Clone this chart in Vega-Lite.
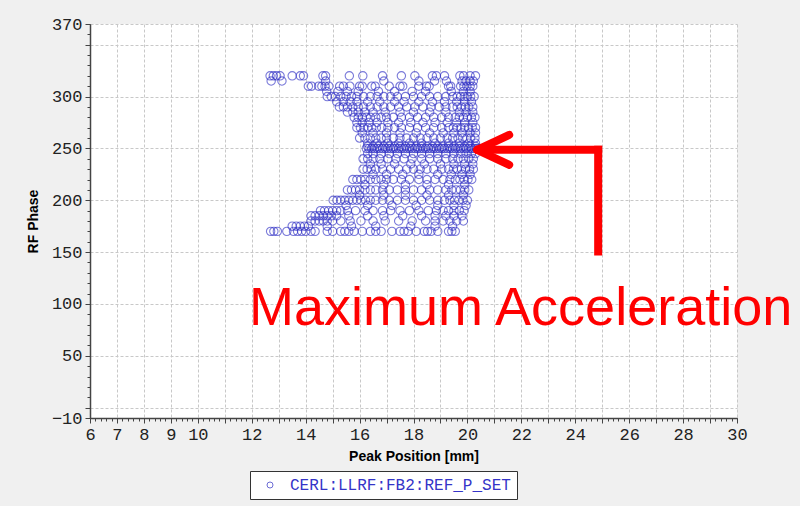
{
"$schema":"https://vega.github.io/schema/vega-lite/v6.json",
"width":647,"height":394,
"autosize":{"type":"none"},
"padding":{"left":90,"top":24,"right":63,"bottom":88},
"background":"#f0f0f0",
"config":{"view":{"fill":"white","stroke":null},"axis":{"labelOverlap":false,"labelFlush":false}},
"resolve":{"axis":{"x":"independent","y":"independent"}},
"layer":[
{"data":{"values":[
{"x":12.68,"y":320},{"x":12.8,"y":320},{"x":12.92,"y":320},{"x":13.05,"y":320},{"x":13.5,"y":320},{"x":13.8,"y":320},{"x":13.92,"y":320},{"x":14.64,"y":320},{"x":14.74,"y":320},{"x":15.62,"y":320},{"x":16.12,"y":320},{"x":16.85,"y":320},{"x":17.55,"y":320},{"x":18.05,"y":320},{"x":18.7,"y":320},{"x":18.85,"y":320},{"x":19.15,"y":320},{"x":19.72,"y":320},{"x":19.86,"y":320},{"x":20.1,"y":320},{"x":20.3,"y":320},
{"x":12.72,"y":315},{"x":13.12,"y":315},{"x":14.74,"y":315},{"x":16.9,"y":315},{"x":18.2,"y":315},{"x":18.78,"y":315},{"x":19.22,"y":315},{"x":19.8,"y":315},{"x":19.95,"y":315},{"x":20.1,"y":315},{"x":20.22,"y":315},
{"x":14.1,"y":310},{"x":14.22,"y":310},{"x":14.48,"y":310},{"x":14.6,"y":310},{"x":14.72,"y":310},{"x":14.86,"y":310},{"x":15.26,"y":310},{"x":15.4,"y":310},{"x":15.64,"y":310},{"x":16.0,"y":310},{"x":16.1,"y":310},{"x":16.45,"y":310},{"x":16.58,"y":310},{"x":17.1,"y":310},{"x":17.5,"y":310},{"x":17.6,"y":310},{"x":18.2,"y":310},{"x":18.48,"y":310},{"x":18.58,"y":310},{"x":19.3,"y":310},{"x":19.38,"y":310},{"x":19.75,"y":310},{"x":19.87,"y":310},{"x":19.98,"y":310},{"x":20.1,"y":310},{"x":20.2,"y":310},
{"x":14.78,"y":305},{"x":15.2,"y":305},{"x":15.55,"y":305},{"x":15.95,"y":305},{"x":16.7,"y":305},{"x":17.3,"y":305},{"x":17.95,"y":305},{"x":18.45,"y":305},{"x":19.4,"y":305},{"x":19.85,"y":305},{"x":20.1,"y":305},
{"x":14.8,"y":300},{"x":14.95,"y":300},{"x":15.1,"y":300},{"x":15.3,"y":300},{"x":15.5,"y":300},{"x":15.7,"y":300},{"x":15.9,"y":300},{"x":16.15,"y":300},{"x":16.4,"y":300},{"x":16.65,"y":300},{"x":16.9,"y":300},{"x":17.15,"y":300},{"x":17.4,"y":300},{"x":17.7,"y":300},{"x":18.0,"y":300},{"x":18.3,"y":300},{"x":18.6,"y":300},{"x":18.9,"y":300},{"x":19.2,"y":300},{"x":19.45,"y":300},{"x":19.62,"y":300},{"x":19.75,"y":300},{"x":19.88,"y":300},{"x":20.0,"y":300},{"x":20.12,"y":300},{"x":20.25,"y":300},
{"x":15.15,"y":295},{"x":15.4,"y":295},{"x":15.65,"y":295},{"x":15.9,"y":295},{"x":16.3,"y":295},{"x":16.75,"y":295},{"x":17.3,"y":295},{"x":17.65,"y":295},{"x":18.2,"y":295},{"x":18.7,"y":295},{"x":19.15,"y":295},{"x":19.6,"y":295},{"x":19.9,"y":295},{"x":20.15,"y":295},
{"x":15.25,"y":290},{"x":15.4,"y":290},{"x":15.55,"y":290},{"x":15.75,"y":290},{"x":15.95,"y":290},{"x":16.15,"y":290},{"x":16.4,"y":290},{"x":16.65,"y":290},{"x":16.9,"y":290},{"x":17.15,"y":290},{"x":17.45,"y":290},{"x":17.75,"y":290},{"x":18.05,"y":290},{"x":18.35,"y":290},{"x":18.65,"y":290},{"x":18.95,"y":290},{"x":19.2,"y":290},{"x":19.45,"y":290},{"x":19.62,"y":290},{"x":19.78,"y":290},{"x":19.92,"y":290},{"x":20.05,"y":290},{"x":20.2,"y":290},
{"x":15.55,"y":285},{"x":15.75,"y":285},{"x":15.95,"y":285},{"x":16.2,"y":285},{"x":16.5,"y":285},{"x":16.95,"y":285},{"x":17.5,"y":285},{"x":18.0,"y":285},{"x":18.6,"y":285},{"x":19.2,"y":285},{"x":19.7,"y":285},{"x":19.95,"y":285},{"x":20.2,"y":285},
{"x":15.8,"y":280},{"x":15.95,"y":280},{"x":16.1,"y":280},{"x":16.25,"y":280},{"x":16.4,"y":280},{"x":16.6,"y":280},{"x":16.8,"y":280},{"x":17.0,"y":280},{"x":17.25,"y":280},{"x":17.55,"y":280},{"x":17.85,"y":280},{"x":18.15,"y":280},{"x":18.45,"y":280},{"x":18.75,"y":280},{"x":19.05,"y":280},{"x":19.3,"y":280},{"x":19.55,"y":280},{"x":19.7,"y":280},{"x":19.85,"y":280},{"x":20.0,"y":280},{"x":20.15,"y":280},{"x":20.28,"y":280},
{"x":15.9,"y":275},{"x":16.1,"y":275},{"x":16.35,"y":275},{"x":16.65,"y":275},{"x":17.05,"y":275},{"x":17.45,"y":275},{"x":17.9,"y":275},{"x":18.35,"y":275},{"x":18.8,"y":275},{"x":19.25,"y":275},{"x":19.6,"y":275},{"x":19.9,"y":275},{"x":20.2,"y":275},
{"x":15.9,"y":270},{"x":16.03,"y":270},{"x":16.16,"y":270},{"x":16.3,"y":270},{"x":16.45,"y":270},{"x":16.62,"y":270},{"x":16.82,"y":270},{"x":17.05,"y":270},{"x":17.3,"y":270},{"x":17.55,"y":270},{"x":17.85,"y":270},{"x":18.15,"y":270},{"x":18.45,"y":270},{"x":18.75,"y":270},{"x":19.05,"y":270},{"x":19.3,"y":270},{"x":19.48,"y":270},{"x":19.62,"y":270},{"x":19.76,"y":270},{"x":19.9,"y":270},{"x":20.04,"y":270},{"x":20.18,"y":270},{"x":20.3,"y":270},
{"x":16.1,"y":265},{"x":16.5,"y":265},{"x":17.0,"y":265},{"x":17.5,"y":265},{"x":18.1,"y":265},{"x":18.6,"y":265},{"x":19.1,"y":265},{"x":19.5,"y":265},{"x":19.8,"y":265},{"x":20.1,"y":265},{"x":20.3,"y":265},
{"x":16.0,"y":260},{"x":16.2,"y":260},{"x":16.4,"y":260},{"x":16.6,"y":260},{"x":16.8,"y":260},{"x":17.0,"y":260},{"x":17.25,"y":260},{"x":17.5,"y":260},{"x":17.75,"y":260},{"x":18.0,"y":260},{"x":18.25,"y":260},{"x":18.5,"y":260},{"x":18.75,"y":260},{"x":19.0,"y":260},{"x":19.25,"y":260},{"x":19.45,"y":260},{"x":19.65,"y":260},{"x":19.82,"y":260},{"x":19.98,"y":260},{"x":20.12,"y":260},{"x":20.28,"y":260},
{"x":16.3,"y":255},{"x":16.65,"y":255},{"x":17.05,"y":255},{"x":17.45,"y":255},{"x":17.85,"y":255},{"x":18.3,"y":255},{"x":18.8,"y":255},{"x":19.3,"y":255},{"x":19.7,"y":255},{"x":20.05,"y":255},{"x":20.3,"y":255},
{"x":16.3,"y":252},{"x":16.5,"y":252},{"x":16.7,"y":252},{"x":16.9,"y":252},{"x":17.1,"y":252},{"x":17.3,"y":252},{"x":17.5,"y":252},{"x":17.7,"y":252},{"x":17.9,"y":252},{"x":18.1,"y":252},{"x":18.3,"y":252},{"x":18.5,"y":252},{"x":18.7,"y":252},{"x":18.9,"y":252},{"x":19.1,"y":252},{"x":19.3,"y":252},{"x":19.5,"y":252},{"x":19.7,"y":252},{"x":19.9,"y":252},{"x":20.1,"y":252},{"x":20.3,"y":252},
{"x":16.25,"y":250},{"x":16.35,"y":250},{"x":16.45,"y":250},{"x":16.55,"y":250},{"x":16.65,"y":250},{"x":16.75,"y":250},{"x":16.85,"y":250},{"x":16.95,"y":250},{"x":17.05,"y":250},{"x":17.15,"y":250},{"x":17.25,"y":250},{"x":17.35,"y":250},{"x":17.45,"y":250},{"x":17.55,"y":250},{"x":17.65,"y":250},{"x":17.75,"y":250},{"x":17.85,"y":250},{"x":17.95,"y":250},{"x":18.05,"y":250},{"x":18.15,"y":250},{"x":18.25,"y":250},{"x":18.35,"y":250},{"x":18.45,"y":250},{"x":18.55,"y":250},{"x":18.65,"y":250},{"x":18.75,"y":250},{"x":18.85,"y":250},{"x":18.95,"y":250},{"x":19.05,"y":250},{"x":19.15,"y":250},{"x":19.25,"y":250},{"x":19.35,"y":250},{"x":19.45,"y":250},{"x":19.55,"y":250},{"x":19.65,"y":250},{"x":19.75,"y":250},{"x":19.85,"y":250},{"x":19.95,"y":250},{"x":20.05,"y":250},{"x":20.15,"y":250},{"x":20.25,"y":250},{"x":20.35,"y":250},{"x":20.42,"y":250},
{"x":16.3,"y":245},{"x":16.5,"y":245},{"x":16.8,"y":245},{"x":17.1,"y":245},{"x":17.4,"y":245},{"x":17.7,"y":245},{"x":18.0,"y":245},{"x":18.3,"y":245},{"x":18.6,"y":245},{"x":18.9,"y":245},{"x":19.2,"y":245},{"x":19.5,"y":245},{"x":19.75,"y":245},{"x":19.95,"y":245},{"x":20.15,"y":245},{"x":20.3,"y":245},
{"x":16.13,"y":240},{"x":16.3,"y":240},{"x":16.5,"y":240},{"x":16.75,"y":240},{"x":17.05,"y":240},{"x":17.35,"y":240},{"x":17.65,"y":240},{"x":17.95,"y":240},{"x":18.3,"y":240},{"x":18.6,"y":240},{"x":18.9,"y":240},{"x":19.2,"y":240},{"x":19.45,"y":240},{"x":19.65,"y":240},{"x":19.85,"y":240},{"x":20.05,"y":240},{"x":20.22,"y":240},
{"x":16.4,"y":235},{"x":16.8,"y":235},{"x":17.3,"y":235},{"x":17.9,"y":235},{"x":18.4,"y":235},{"x":19.0,"y":235},{"x":19.5,"y":235},{"x":19.9,"y":235},{"x":20.2,"y":235},
{"x":16.13,"y":230},{"x":16.28,"y":230},{"x":16.43,"y":230},{"x":16.6,"y":230},{"x":16.85,"y":230},{"x":17.15,"y":230},{"x":17.45,"y":230},{"x":17.75,"y":230},{"x":18.0,"y":230},{"x":18.25,"y":230},{"x":18.5,"y":230},{"x":18.75,"y":230},{"x":19.05,"y":230},{"x":19.3,"y":230},{"x":19.48,"y":230},{"x":19.62,"y":230},{"x":19.78,"y":230},{"x":19.93,"y":230},{"x":20.08,"y":230},{"x":20.22,"y":230},
{"x":16.5,"y":225},{"x":17.0,"y":225},{"x":17.6,"y":225},{"x":18.2,"y":225},{"x":18.9,"y":225},{"x":19.4,"y":225},{"x":19.8,"y":225},{"x":20.1,"y":225},
{"x":15.75,"y":220},{"x":15.9,"y":220},{"x":16.05,"y":220},{"x":16.2,"y":220},{"x":16.4,"y":220},{"x":16.6,"y":220},{"x":16.8,"y":220},{"x":17.0,"y":220},{"x":17.25,"y":220},{"x":17.55,"y":220},{"x":17.85,"y":220},{"x":18.2,"y":220},{"x":18.5,"y":220},{"x":18.8,"y":220},{"x":19.1,"y":220},{"x":19.35,"y":220},{"x":19.55,"y":220},{"x":19.72,"y":220},{"x":19.88,"y":220},{"x":20.02,"y":220},{"x":20.16,"y":220},
{"x":16.2,"y":215},{"x":16.9,"y":215},{"x":17.7,"y":215},{"x":18.5,"y":215},{"x":19.3,"y":215},{"x":19.9,"y":215},
{"x":15.55,"y":210},{"x":15.7,"y":210},{"x":15.85,"y":210},{"x":16.0,"y":210},{"x":16.2,"y":210},{"x":16.4,"y":210},{"x":16.6,"y":210},{"x":16.85,"y":210},{"x":17.1,"y":210},{"x":17.4,"y":210},{"x":17.7,"y":210},{"x":18.0,"y":210},{"x":18.3,"y":210},{"x":18.6,"y":210},{"x":18.9,"y":210},{"x":19.2,"y":210},{"x":19.42,"y":210},{"x":19.58,"y":210},{"x":19.74,"y":210},{"x":19.9,"y":210},{"x":20.05,"y":210},
{"x":16.0,"y":205},{"x":16.9,"y":205},{"x":17.7,"y":205},{"x":18.5,"y":205},{"x":19.3,"y":205},{"x":19.85,"y":205},
{"x":15.02,"y":200},{"x":15.16,"y":200},{"x":15.3,"y":200},{"x":15.45,"y":200},{"x":15.6,"y":200},{"x":15.75,"y":200},{"x":15.9,"y":200},{"x":16.05,"y":200},{"x":16.22,"y":200},{"x":16.4,"y":200},{"x":16.6,"y":200},{"x":16.85,"y":200},{"x":17.1,"y":200},{"x":17.4,"y":200},{"x":17.7,"y":200},{"x":18.0,"y":200},{"x":18.3,"y":200},{"x":18.6,"y":200},{"x":18.9,"y":200},{"x":19.15,"y":200},{"x":19.35,"y":200},{"x":19.52,"y":200},{"x":19.68,"y":200},{"x":19.84,"y":200},{"x":20.0,"y":200},
{"x":15.5,"y":195},{"x":16.3,"y":195},{"x":17.2,"y":195},{"x":18.1,"y":195},{"x":18.9,"y":195},{"x":19.5,"y":195},{"x":19.95,"y":195},
{"x":14.55,"y":190},{"x":14.7,"y":190},{"x":14.85,"y":190},{"x":15.0,"y":190},{"x":15.15,"y":190},{"x":15.3,"y":190},{"x":15.55,"y":190},{"x":15.85,"y":190},{"x":16.2,"y":190},{"x":16.5,"y":190},{"x":16.85,"y":190},{"x":17.15,"y":190},{"x":17.5,"y":190},{"x":17.85,"y":190},{"x":18.2,"y":190},{"x":18.55,"y":190},{"x":18.85,"y":190},{"x":19.1,"y":190},{"x":19.3,"y":190},{"x":19.5,"y":190},{"x":19.7,"y":190},{"x":19.88,"y":190},
{"x":14.2,"y":185},{"x":14.35,"y":185},{"x":14.5,"y":185},{"x":14.65,"y":185},{"x":14.8,"y":185},{"x":14.95,"y":185},{"x":15.15,"y":185},{"x":15.6,"y":185},{"x":16.3,"y":185},{"x":16.9,"y":185},{"x":17.6,"y":185},{"x":18.3,"y":185},{"x":18.8,"y":185},{"x":19.2,"y":185},{"x":19.5,"y":185},{"x":19.8,"y":185},
{"x":14.2,"y":180},{"x":14.35,"y":180},{"x":14.5,"y":180},{"x":14.65,"y":180},{"x":14.8,"y":180},{"x":15.0,"y":180},{"x":15.3,"y":180},{"x":15.65,"y":180},{"x":16.05,"y":180},{"x":16.5,"y":180},{"x":16.95,"y":180},{"x":17.45,"y":180},{"x":17.95,"y":180},{"x":18.45,"y":180},{"x":18.8,"y":180},{"x":19.1,"y":180},{"x":19.35,"y":180},{"x":19.6,"y":180},{"x":19.85,"y":180},
{"x":13.5,"y":175},{"x":13.65,"y":175},{"x":13.8,"y":175},{"x":13.95,"y":175},{"x":14.1,"y":175},{"x":14.8,"y":175},{"x":15.7,"y":175},{"x":16.6,"y":175},{"x":17.9,"y":175},{"x":18.8,"y":175},{"x":19.45,"y":175},
{"x":12.7,"y":170},{"x":12.82,"y":170},{"x":12.95,"y":170},{"x":13.3,"y":170},{"x":13.55,"y":170},{"x":13.7,"y":170},{"x":13.85,"y":170},{"x":14.0,"y":170},{"x":14.2,"y":170},{"x":14.35,"y":170},{"x":14.8,"y":170},{"x":15.0,"y":170},{"x":15.3,"y":170},{"x":15.45,"y":170},{"x":15.6,"y":170},{"x":15.8,"y":170},{"x":16.1,"y":170},{"x":16.4,"y":170},{"x":16.6,"y":170},{"x":16.8,"y":170},{"x":17.2,"y":170},{"x":17.5,"y":170},{"x":17.65,"y":170},{"x":17.8,"y":170},{"x":18.1,"y":170},{"x":18.4,"y":170},{"x":18.52,"y":170},{"x":18.65,"y":170},{"x":18.9,"y":170},{"x":19.3,"y":170},{"x":19.42,"y":170},{"x":19.55,"y":170}
]},
"mark":{"type":"point","shape":"circle","filled":false,"size":70,"strokeWidth":1.1,"strokeOpacity":0.9},
"encoding":{
"x":{"field":"x","type":"quantitative","scale":{"domain":[6,30],"nice":false,"zero":false},
"axis":{"orient":"bottom","values":[6,7,8,9,10,11,12,13,14,15,16,17,18,19,20,21,22,23,24,25,26,27,28,29,30],"labelExpr":"datum.value<=10||datum.value%2==0?datum.label:''","grid":true,"gridDash":[3,2],"gridColor":"#c8c8c8","tickSize":5,"tickColor":"#444","domainColor":"#444","domainWidth":1.5,"labelFont":"Liberation Mono","labelFontSize":17,"labelColor":"#222","labelPadding":3,"title":"Peak Position [mm]","titleFont":"Liberation Sans","titleFontWeight":"bold","titleFontSize":14,"titleColor":"#000","titlePadding":7}},
"y":{"field":"y","type":"quantitative","scale":{"domain":[-10,370],"nice":false,"zero":false},
"axis":{"orient":"left","values":[-10,0,50,100,150,200,250,300,350,370],"labelExpr":"datum.value==0||datum.value==350?'':datum.label","grid":true,"gridDash":[3,2],"gridColor":"#c8c8c8","tickSize":5,"tickColor":"#444","domainColor":"#444","domainWidth":1.5,"labelFont":"Liberation Mono","labelFontSize":17,"labelColor":"#222","labelPadding":3,"title":"RF Phase","titleFont":"Liberation Sans","titleFontWeight":"bold","titleFontSize":14,"titleColor":"#000","titlePadding":11}},
"stroke":{"datum":"CERL:LLRF:FB2:REF_P_SET","type":"nominal","scale":{"range":["#2e2ec4"]},
"legend":{"orient":"none","legendX":160,"legendY":447,"title":null,"fillColor":"white","strokeColor":"#333","padding":6,"labelFont":"Liberation Mono","labelFontSize":16,"labelColor":"#3434c8","labelLimit":0,"symbolType":"circle","symbolSize":36,"symbolStrokeWidth":1,"symbolOffset":6,"labelOffset":12}}
}},
{"data":{"values":[{"x":24.85,"y":150.5,"x2":24.85,"y2":248.6},{"x":20.45,"y":248.6,"x2":24.85,"y2":248.6}]},
"mark":{"type":"rule","color":"#ff0000","strokeWidth":8,"strokeCap":"square"},
"encoding":{
"x":{"field":"x","type":"quantitative","axis":{"orient":"bottom","tickCount":120,"labels":false,"grid":false,"domain":false,"tickSize":3,"tickColor":"#444","title":null}},
"x2":{"field":"x2"},
"y":{"field":"y","type":"quantitative","axis":{"orient":"left","tickCount":38,"labels":false,"grid":false,"domain":false,"tickSize":3,"tickColor":"#444","title":null}},
"y2":{"field":"y2"}}},
{"data":{"values":[{"x":20.36,"y":248.6,"x2":21.55,"y2":263},{"x":20.36,"y":248.6,"x2":21.55,"y2":234.2}]},
"mark":{"type":"rule","color":"#ff0000","strokeWidth":8,"strokeCap":"round"},
"encoding":{"x":{"field":"x","type":"quantitative","axis":null},"x2":{"field":"x2"},"y":{"field":"y","type":"quantitative","axis":null},"y2":{"field":"y2"}}},
{"data":{"values":[{"x":11.9,"y":80,"label":"Maximum Acceleration"}]},
"mark":{"type":"text","color":"#ff0000","font":"Liberation Sans","fontSize":54,"align":"left","baseline":"alphabetic"},
"encoding":{"x":{"field":"x","type":"quantitative","axis":null},"y":{"field":"y","type":"quantitative","axis":null},"text":{"field":"label"}}}
]
}
